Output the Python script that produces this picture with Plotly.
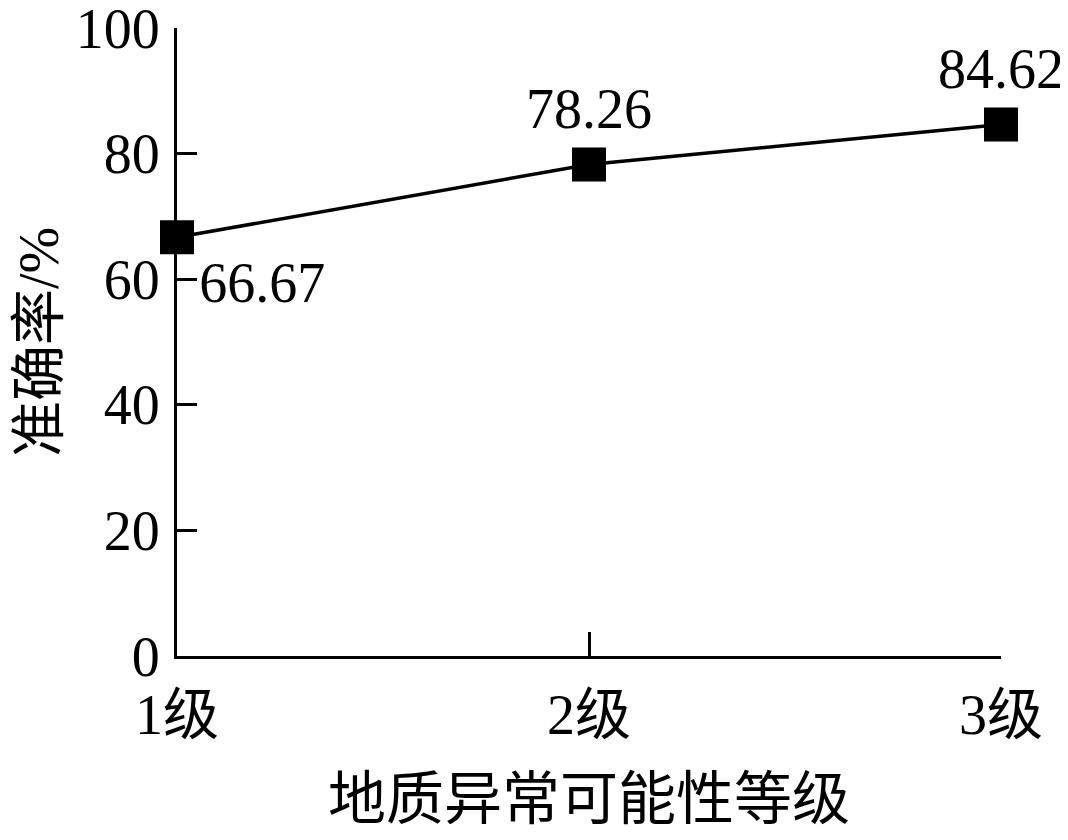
import plotly.graph_objects as go

levels = [1, 2, 3]
level_labels = ["1级", "2级", "3级"]
accuracy = [66.67, 78.26, 84.62]
label_text = ["66.67", "78.26", "84.62"]
label_pos = ["bottom right", "top center", "top center"]

FONT = "Liberation Serif, Times New Roman, Noto Sans CJK SC"

fig = go.Figure(data=go.Scatter(
    x=levels,
    y=accuracy,
    mode="lines+markers+text",
    line=dict(color="black", width=3.5),
    marker=dict(symbol="square", size=34, color="black"),
    text=label_text,
    textposition=label_pos,
    textfont=dict(family=FONT, size=56, color="black"),
    cliponaxis=False,
))

# the page body adds a small offset, so the figure is a bit smaller than the window
fig.update_layout(
    width=1061,
    height=830,
    margin=dict(l=169, r=68, t=20, b=182),
    plot_bgcolor="white",
    paper_bgcolor="white",
    showlegend=False,
    font=dict(family=FONT, size=56, color="black"),
    xaxis=go.layout.XAxis(
        range=[1, 3],
        tickvals=levels,
        ticktext=level_labels,
        ticks="inside",
        ticklen=24,
        tickwidth=3,
        tickcolor="black",
        showline=True,
        linecolor="black",
        linewidth=3,
        showgrid=False,
        zeroline=False,
        automargin=False,
        ticklabelstandoff=8,
        ticklabeloverflow="allow",
        tickfont=dict(family=FONT, size=56),
        title=go.layout.xaxis.Title(
            text="地质异常可能性等级",
            font=dict(family=FONT, size=58),
            standoff=34,
        ),
    ),
    yaxis=go.layout.YAxis(
        range=[0, 100],
        tickvals=[0, 20, 40, 60, 80, 100],
        ticks="inside",
        ticklen=20,
        tickwidth=3,
        tickcolor="black",
        showline=True,
        linecolor="black",
        linewidth=3,
        showgrid=False,
        zeroline=False,
        automargin=False,
        ticklabelstandoff=3,
        ticklabeloverflow="allow",
        tickfont=dict(family=FONT, size=56),
        title=go.layout.yaxis.Title(
            text="准确率/%",
            font=dict(family=FONT, size=56),
            standoff=14,
        ),
    ),
)

fig.write_html("out.html")
